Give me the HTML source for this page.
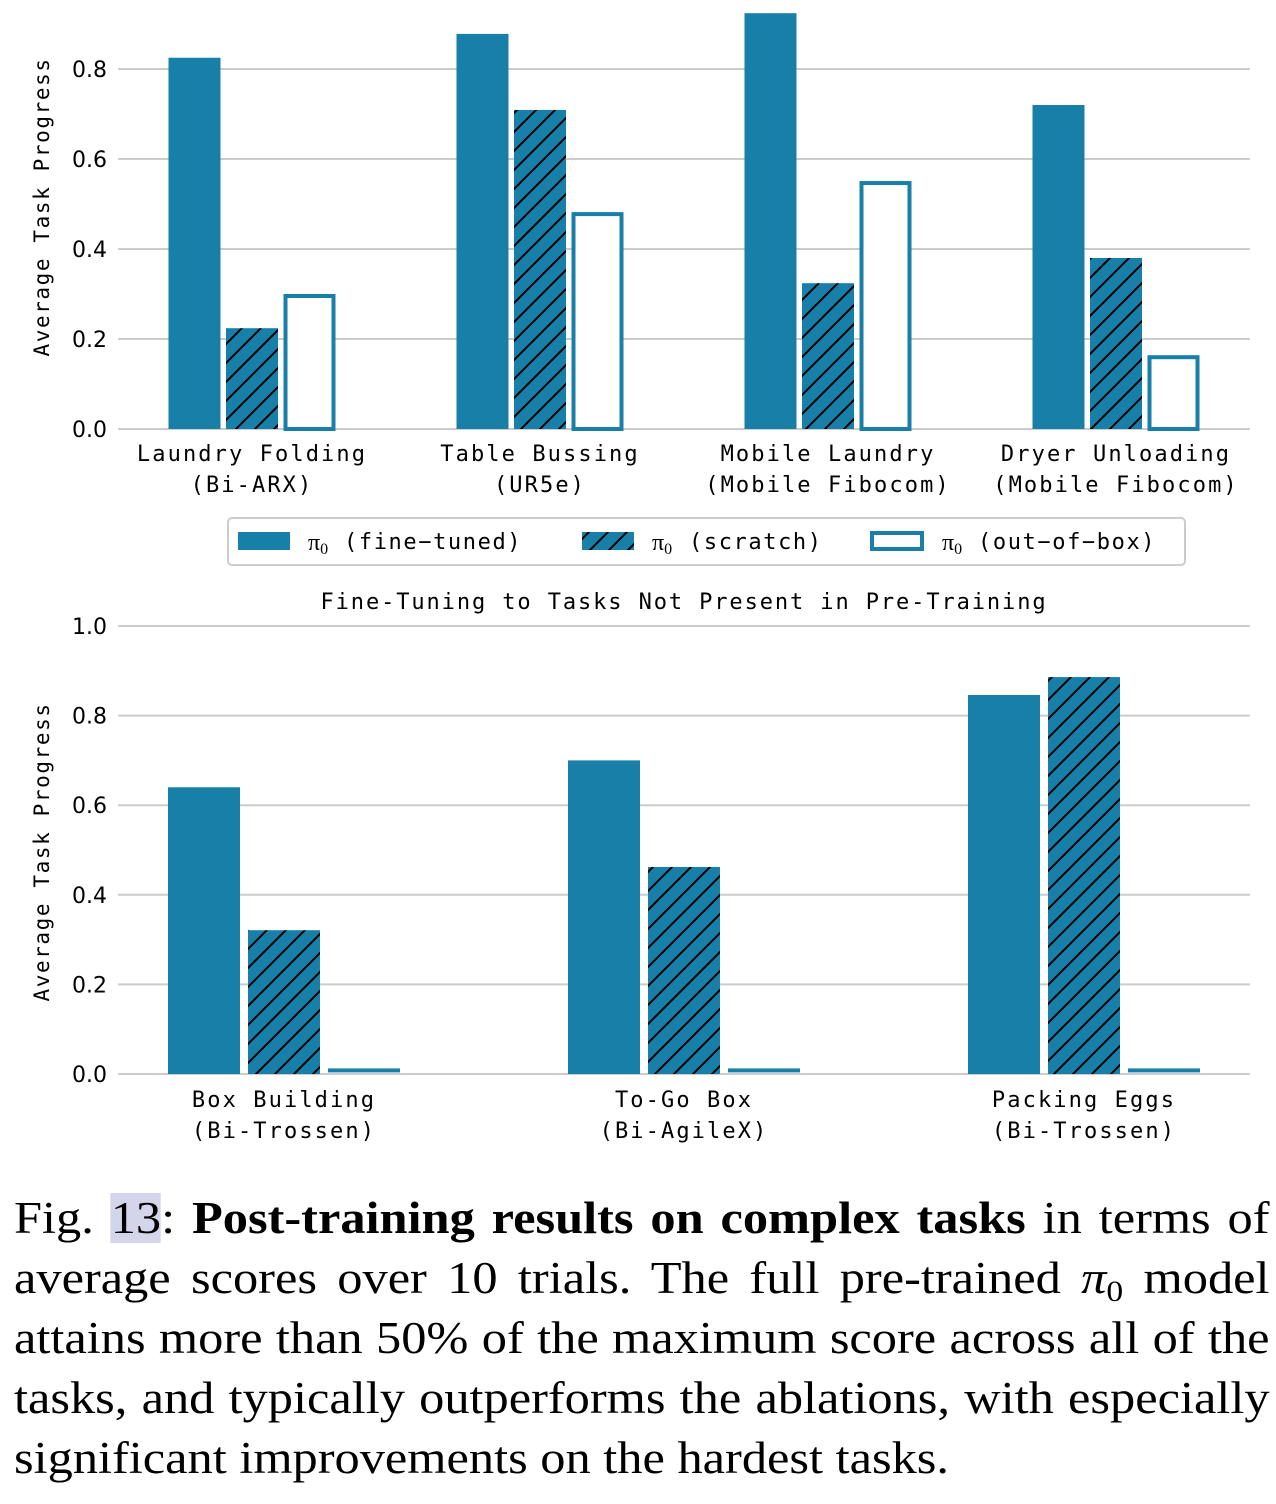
<!DOCTYPE html>
<html><head><meta charset="utf-8">
<style>
body{margin:0;background:#fff;width:1276px;height:1504px;overflow:hidden;position:relative}
svg{position:absolute;left:0;top:0}
.cap{position:absolute;left:14px;top:1188px;width:1121px;font-family:"Liberation Serif",serif;font-size:45px;color:#000;transform:scaleX(1.12);transform-origin:0 0}
.cap div{height:60px;line-height:60px;text-align:justify;text-align-last:justify;white-space:nowrap}
.cap div.last{text-align-last:left}
.hl{background:#d3d6ea}
sub{font-size:30px;line-height:0;vertical-align:-8px}
</style></head><body>
<svg id="chart" width="1276" height="1180" xmlns="http://www.w3.org/2000/svg">
<defs>
<pattern id="hatch" patternUnits="userSpaceOnUse" width="19" height="19">
<rect width="19" height="19" fill="#177fa8"/>
<path d="M-2,21 L21,-2 M-5,5 L5,-5 M14,24 L24,14" stroke="#000" stroke-width="2"/>
</pattern>
</defs>
<g id="top"></g>
<g id="bot"></g>
<g id="legend">
<rect x="228" y="518" width="957" height="47" rx="4" fill="#fff" stroke="#ccc" stroke-width="2"/>
<rect x="238" y="532" width="52" height="18" fill="#177fa8"/>
<text x="308" y="550" font-family="Liberation Serif,serif" font-size="24">π<tspan font-size="16" dy="4">0</tspan></text>
<text x="344" y="549" font-family="DejaVu Sans Mono,monospace" font-size="22" letter-spacing="1.6">(fine−tuned)</text>
<rect x="582" y="532" width="52" height="18" fill="url(#hatch)"/>
<text x="652" y="550" font-family="Liberation Serif,serif" font-size="24">π<tspan font-size="16" dy="4">0</tspan></text>
<text x="689" y="549" font-family="DejaVu Sans Mono,monospace" font-size="22" letter-spacing="1.6">(scratch)</text>
<rect x="872" y="533" width="50" height="16" fill="#fff" stroke="#177fa8" stroke-width="4"/>
<text x="942" y="550" font-family="Liberation Serif,serif" font-size="24">π<tspan font-size="16" dy="4">0</tspan></text>
<text x="978" y="549" font-family="DejaVu Sans Mono,monospace" font-size="22" letter-spacing="1.6">(out−of−box)</text>
</g>
<text x="684" y="609" text-anchor="middle" font-family="DejaVu Sans Mono,monospace" font-size="22" letter-spacing="1.9">Fine-Tuning to Tasks Not Present in Pre-Training</text>
</svg>
<div class="cap">
<div>Fig. <span class="hl">13</span>: <b>Post-training results on complex tasks</b> in terms of</div>
<div>average scores over 10 trials. The full pre-trained <i>π</i><sub>0</sub> model</div>
<div>attains more than 50% of the maximum score across all of the</div>
<div>tasks, and typically outperforms the ablations, with especially</div>
<div class="last">significant improvements on the hardest tasks.</div>
</div>
<script>
const topCats=[["Laundry Folding","(Bi-ARX)"],["Table Bussing","(UR5e)"],["Mobile Laundry","(Mobile Fibocom)"],["Dryer Unloading","(Mobile Fibocom)"]];
const topFine=[0.825,0.878,0.924,0.72];
const topScratch=[0.224,0.709,0.324,0.38];
const topOob=[0.30,0.482,0.551,0.164];
const topTicks=[0,0.2,0.4,0.6,0.8];
const botCats=[["Box Building","(Bi-Trossen)"],["To-Go Box","(Bi-AgileX)"],["Packing Eggs","(Bi-Trossen)"]];
const botFine=[0.64,0.70,0.846];
const botScratch=[0.321,0.462,0.886];
const botOob=[0.008,0.008,0.008];
const botTicks=[0,0.2,0.4,0.6,0.8,1.0];
const NS="http://www.w3.org/2000/svg";
const C="#177fa8";
function mk(p,tag,a){const e=document.createElementNS(NS,tag);for(const k in a)e.setAttribute(k,a[k]);p.appendChild(e);return e;}
function draw(g,cats,series,ticks,y0,pxPer,c0,step,bw,gap,labY){
  const y=v=>y0-v*pxPer;
  ticks.forEach(t=>{
    const l=mk(g,'line',{x1:118,x2:1250,y1:y(t),y2:y(t),stroke:'#ccc','stroke-width':2});
    
    
    const tx=mk(g,'text',{x:107,y:y(t)+8,'text-anchor':'end','font-family':'DejaVu Sans,sans-serif','font-size':22});
    tx.textContent=t.toFixed(1);
    
    
  });
  cats.forEach((c,i)=>{
    const cx=c0+i*step;
    series.forEach((s,j)=>{
      const x=cx+(j-1)*(bw+gap)-bw/2;const v=s[i];
      let r;
      if(j==2){
        if(v<0.02){r=mk(g,'rect',{x:x,y:y(v)-2,width:bw,height:4,fill:C});}
        else r=mk(g,'rect',{x:x+2,y:y(v)+2,width:bw-4,height:v*pxPer-2,fill:'#fff',stroke:C,'stroke-width':4});
      } else r=mk(g,'rect',{x:x,y:y(v),width:bw,height:v*pxPer,fill:j==0?C:'url(#hatch)'});
      
      
    });
    c.forEach((line,k)=>{
      const t=mk(g,'text',{x:cx,y:labY+k*31,'text-anchor':'middle','font-family':'DejaVu Sans Mono,monospace','font-size':22,'letter-spacing':2.1});
      t.textContent=line;
      
      
    });
  });
}
draw(document.getElementById('top'),topCats,[topFine,topScratch,topOob],topTicks,429,450,252,288,52,5.5,461);
draw(document.getElementById('bot'),botCats,[botFine,botScratch,botOob],botTicks,1074,448,284,400,72,8,1107);
[[42,207],[42,852]].forEach(p=>{
  const t=mk(document.getElementById('chart'),'text',{x:p[0],y:p[1],transform:`rotate(-90 ${p[0]} ${p[1]})`,'text-anchor':'middle','font-family':'DejaVu Sans Mono,monospace','font-size':21,'letter-spacing':1.6,dy:7});
  t.textContent='Average Task Progress';
  
  
});
</script>
</body></html>
